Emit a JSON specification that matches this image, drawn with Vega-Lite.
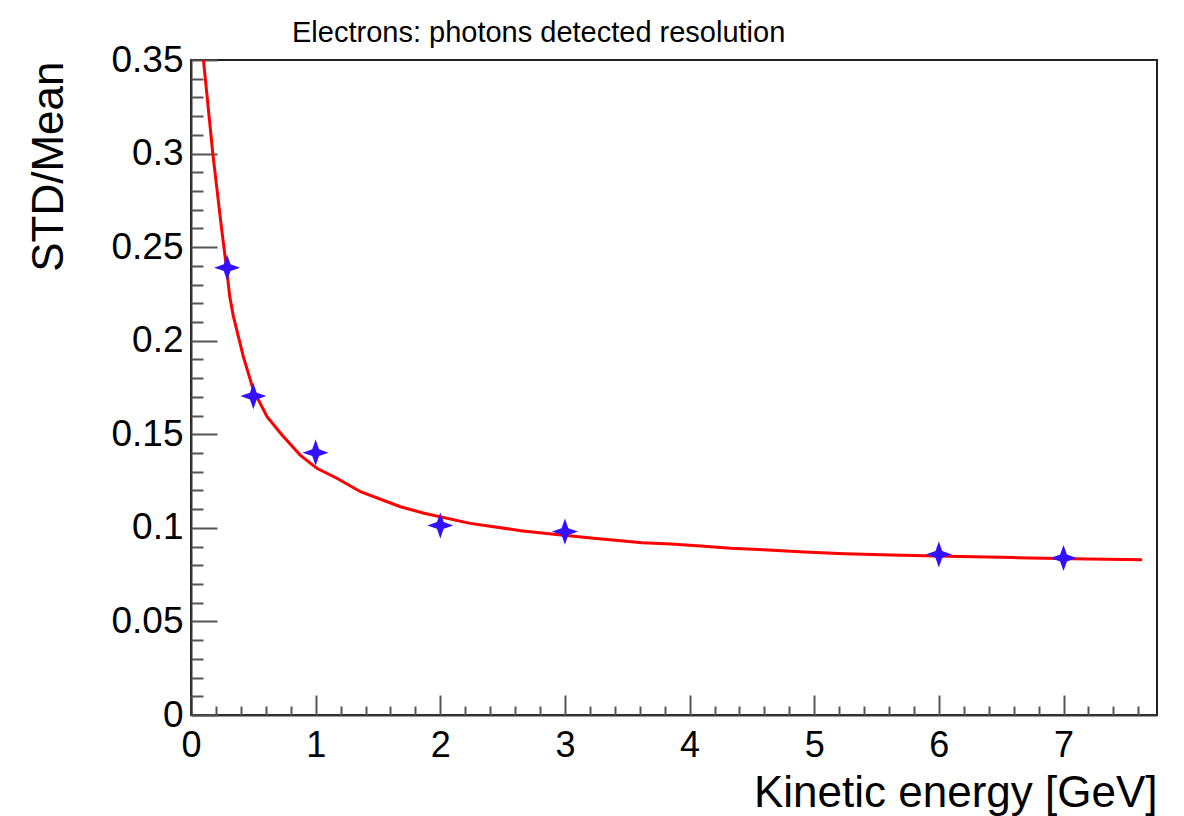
{
  "$schema": "https://vega.github.io/schema/vega-lite/v6.json",
  "width": 966,
  "height": 655,
  "autosize": {"type": "none"},
  "padding": {"left": 191, "top": 60, "right": 27, "bottom": 101},
  "background": "white",
  "config": {
    "font": "Liberation Sans",
    "view": {"stroke": "#222222", "strokeWidth": 2}
  },
  "title": {
    "text": "Electrons: photons detected resolution",
    "frame": "group",
    "anchor": "start",
    "dx": 101,
    "dy": 48,
    "fontSize": 29,
    "fontWeight": "normal",
    "font": "Liberation Sans",
    "color": "#000000",
    "baseline": "alphabetic",
    "offset": 18
  },
  "datasets": {
    "points": [
      {"E": 0.29, "ratio": 0.239},
      {"E": 0.5, "ratio": 0.1704},
      {"E": 1.0, "ratio": 0.1402},
      {"E": 2.0, "ratio": 0.1013},
      {"E": 3.0, "ratio": 0.098},
      {"E": 6.0, "ratio": 0.0858},
      {"E": 7.0, "ratio": 0.0839}
    ],
    "fit": [
      {"E": 0.10, "ratio": 0.350},
      {"E": 0.175, "ratio": 0.300},
      {"E": 0.245, "ratio": 0.260},
      {"E": 0.285, "ratio": 0.239},
      {"E": 0.31, "ratio": 0.224},
      {"E": 0.34, "ratio": 0.213},
      {"E": 0.42, "ratio": 0.1915},
      {"E": 0.50, "ratio": 0.1737},
      {"E": 0.61, "ratio": 0.1594},
      {"E": 0.73, "ratio": 0.1496},
      {"E": 0.876, "ratio": 0.1389},
      {"E": 1.01, "ratio": 0.1318},
      {"E": 1.17, "ratio": 0.1265},
      {"E": 1.36, "ratio": 0.1193},
      {"E": 1.68, "ratio": 0.1113},
      {"E": 1.87, "ratio": 0.1078},
      {"E": 2.24, "ratio": 0.1024},
      {"E": 2.645, "ratio": 0.0985},
      {"E": 2.89, "ratio": 0.0967},
      {"E": 3.23, "ratio": 0.0944},
      {"E": 3.62, "ratio": 0.0921},
      {"E": 3.85, "ratio": 0.0914},
      {"E": 4.09, "ratio": 0.0903},
      {"E": 4.33, "ratio": 0.0891},
      {"E": 4.63, "ratio": 0.0882},
      {"E": 4.92, "ratio": 0.0871},
      {"E": 5.24, "ratio": 0.0862},
      {"E": 5.62, "ratio": 0.0855},
      {"E": 6.07, "ratio": 0.0848},
      {"E": 6.6, "ratio": 0.0841},
      {"E": 7.2, "ratio": 0.0834},
      {"E": 7.63, "ratio": 0.0829}
    ]
  },
  "layer": [
    {
      "data": {"name": "fit"},
      "mark": {"type": "line", "color": "#ff0000", "strokeWidth": 3, "clip": true},
      "encoding": {
        "x": {
          "field": "E", "type": "quantitative",
          "scale": {"domain": [0, 7.75], "nice": false, "zero": false},
          "axis": {
            "orient": "bottom",
            "title": "Kinetic energy [GeV]",
            "titleFont": "Liberation Sans",
            "titleFontSize": 44,
            "titleFontWeight": "normal",
            "titleColor": "#000000",
            "titleAnchor": "end",
            "titleAlign": "right",
            "titleBaseline": "alphabetic",
            "titleY": 91,
            "values": [0, 1, 2, 3, 4, 5, 6, 7],
            "format": "d",
            "labelFont": "Liberation Sans",
            "labelFontSize": 36,
            "labelColor": "#000000",
            "labelPadding": 13,
            "labelBaseline": "top",
            "labelFlush": false,
            "labelOverlap": false,
            "ticks": false,
            "grid": false,
            "domain": true,
            "domainColor": "#333333",
            "domainWidth": 2
          }
        },
        "y": {
          "field": "ratio", "type": "quantitative",
          "scale": {"domain": [0, 0.35], "nice": false, "zero": false},
          "axis": {
            "orient": "left",
            "title": "STD/Mean",
            "titleFont": "Liberation Sans",
            "titleFontSize": 44,
            "titleFontWeight": "normal",
            "titleColor": "#000000",
            "titleAngle": -90,
            "titleAlign": "right",
            "titleBaseline": "alphabetic",
            "titleX": -129,
            "titleY": 1,
            "values": [0, 0.05, 0.1, 0.15, 0.2, 0.25, 0.3, 0.35],
            "format": ".2~f",
            "labelFont": "Liberation Sans",
            "labelFontSize": 37,
            "labelColor": "#000000",
            "labelPadding": 8,
            "labelFlush": false,
            "labelOverlap": false,
            "ticks": false,
            "grid": false,
            "domain": true,
            "domainColor": "#333333",
            "domainWidth": 2
          }
        }
      }
    },
    {
      "data": {"name": "points"},
      "mark": {
        "type": "point",
        "shape": "M0,-1L0.26,-0.26L1,0L0.26,0.26L0,1L-0.26,0.26L-1,0L-0.26,-0.26Z",
        "filled": true,
        "size": 680,
        "color": "#3311ff",
        "opacity": 1
      },
      "encoding": {
        "x": {
          "field": "E", "type": "quantitative",
          "axis": {
            "orient": "bottom", "title": null, "labels": false, "domain": false, "grid": false,
            "values": [0, 1, 2, 3, 4, 5, 6, 7],
            "ticks": true, "tickSize": -20, "tickColor": "#555555", "tickWidth": 2
          }
        },
        "y": {
          "field": "ratio", "type": "quantitative",
          "axis": {
            "orient": "left", "title": null, "labels": false, "domain": false, "grid": false,
            "values": [0, 0.05, 0.1, 0.15, 0.2, 0.25, 0.3, 0.35],
            "ticks": true, "tickSize": -26, "tickColor": "#555555", "tickWidth": 2
          }
        }
      }
    },
    {
      "data": {"name": "points"},
      "mark": {"type": "point", "opacity": 0},
      "encoding": {
        "x": {
          "field": "E", "type": "quantitative",
          "axis": {
            "orient": "bottom", "title": null, "labels": false, "domain": false, "grid": false,
            "values": [0.2, 0.4, 0.6, 0.8, 1.2, 1.4, 1.6, 1.8, 2.2, 2.4, 2.6, 2.8, 3.2, 3.4, 3.6, 3.8, 4.2, 4.4, 4.6, 4.8, 5.2, 5.4, 5.6, 5.8, 6.2, 6.4, 6.6, 6.8, 7.2, 7.4, 7.6],
            "ticks": true, "tickSize": -9, "tickColor": "#555555", "tickWidth": 2
          }
        },
        "y": {
          "field": "ratio", "type": "quantitative",
          "axis": {
            "orient": "left", "title": null, "labels": false, "domain": false, "grid": false,
            "values": [0.01, 0.02, 0.03, 0.04, 0.06, 0.07, 0.08, 0.09, 0.11, 0.12, 0.13, 0.14, 0.16, 0.17, 0.18, 0.19, 0.21, 0.22, 0.23, 0.24, 0.26, 0.27, 0.28, 0.29, 0.31, 0.32, 0.33, 0.34],
            "ticks": true, "tickSize": -12, "tickColor": "#555555", "tickWidth": 2
          }
        }
      }
    }
  ],
  "resolve": {"axis": {"x": "independent", "y": "independent"}}
}
